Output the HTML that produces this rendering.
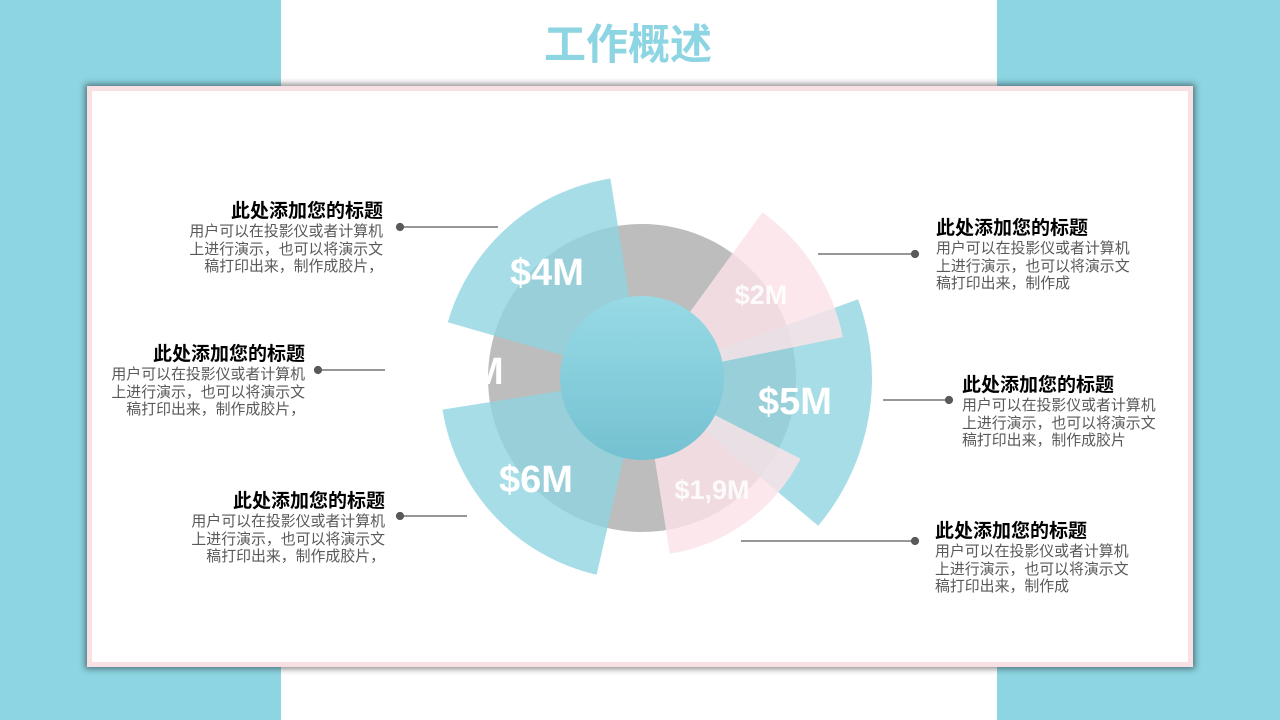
<!DOCTYPE html>
<html><head><meta charset="utf-8"><style>
body{margin:0;width:1280px;height:720px;overflow:hidden;background:#8dd5e2;position:relative;font-family:"Liberation Sans","Noto Sans CJK SC",sans-serif}
.strip{position:absolute;left:281px;top:0;width:716px;height:720px;background:#fff}
.title{position:absolute;left:270px;width:716px;top:18px;text-align:center;font-size:42px;font-weight:bold;color:#8dd5e2;line-height:54px}
.card{position:absolute;left:87px;top:86px;width:1096px;height:571px;border:5px solid #f8e0e5;background:#fff;box-shadow:0 0 6px 2px rgba(0,0,0,.45)}
.t{position:absolute;font-size:14.9px;color:#595959;line-height:17.5px;white-space:nowrap}
.t b{display:block;font-size:19px;color:#000;line-height:22px;margin-bottom:1px}
.r{text-align:right}
svg{position:absolute;left:0;top:0}
</style></head><body>
<div class="strip"></div>
<div class="title">工作概述</div>
<div class="card"></div>
<svg width="1280" height="720">
<defs><linearGradient id="g" x1="0" y1="0" x2="0" y2="1"><stop offset="0" stop-color="#98dae6"/><stop offset="1" stop-color="#74c1d1"/></linearGradient></defs>
<circle cx="642" cy="378" r="154" fill="#bdbdbd"/>
<g fill="#8dd3e0" fill-opacity="0.78">
<path d="M642,378 L447.8,322.3 A202,202 0 0 1 610.4,178.5 Z"/>
<path d="M642,378 L596.6,574.8 A202,202 0 0 1 442.5,409.6 Z"/>
<path d="M642,378 L858.1,299.3 A230,230 0 0 1 818.2,525.8 Z"/>
</g>
<g fill="#fbe3e8" fill-opacity="0.82">
<path d="M642,378 L762.5,212.2 A205,205 0 0 1 842.9,337.1 Z"/>
<path d="M642,378 L800.6,458.8 A178,178 0 0 1 669.8,553.8 Z"/>
</g>
<circle cx="642" cy="378" r="82" fill="url(#g)"/>
<g fill="#fff" font-family="Liberation Sans,sans-serif" font-weight="bold">
<text x="547" y="285" font-size="38" text-anchor="middle">$4M</text>
<text x="536" y="492" font-size="38" text-anchor="middle">$6M</text>
<text x="795" y="414" font-size="38" text-anchor="middle">$5M</text>
<text x="761" y="304" font-size="27" text-anchor="middle" fill-opacity="0.85">$2M</text>
<text x="712" y="499" font-size="27" text-anchor="middle" fill-opacity="0.85">$1,9M</text>
<text x="472" y="384" font-size="38">M</text>
</g>
<g stroke="#595959" stroke-width="1.2" fill="#595959">
<line x1="400" y1="227" x2="498" y2="227"/><circle cx="400" cy="227" r="3.5"/>
<line x1="318" y1="370" x2="385" y2="370"/><circle cx="318" cy="370" r="3.5"/>
<line x1="400" y1="516" x2="467" y2="516"/><circle cx="400" cy="516" r="3.5"/>
<line x1="818" y1="254" x2="915" y2="254"/><circle cx="915" cy="254" r="3.5"/>
<line x1="883" y1="400" x2="949" y2="400"/><circle cx="949" cy="400" r="3.5"/>
<line x1="741" y1="541" x2="915" y2="541"/><circle cx="915" cy="541" r="3.5"/>
</g>
</svg>
<div class="t r" style="right:897px;top:201px"><b>此处添加您的标题</b>用户可以在投影仪或者计算机<br>上进行演示，也可以将演示文<br>稿打印出来，制作成胶片，</div>
<div class="t r" style="right:975px;top:344px"><b>此处添加您的标题</b>用户可以在投影仪或者计算机<br>上进行演示，也可以将演示文<br>稿打印出来，制作成胶片，</div>
<div class="t r" style="right:895px;top:491px"><b>此处添加您的标题</b>用户可以在投影仪或者计算机<br>上进行演示，也可以将演示文<br>稿打印出来，制作成胶片，</div>
<div class="t" style="left:936px;top:218px"><b>此处添加您的标题</b>用户可以在投影仪或者计算机<br>上进行演示，也可以将演示文<br>稿打印出来，制作成</div>
<div class="t" style="left:962px;top:375px"><b>此处添加您的标题</b>用户可以在投影仪或者计算机<br>上进行演示，也可以将演示文<br>稿打印出来，制作成胶片</div>
<div class="t" style="left:935px;top:521px"><b>此处添加您的标题</b>用户可以在投影仪或者计算机<br>上进行演示，也可以将演示文<br>稿打印出来，制作成</div>
</body></html>
